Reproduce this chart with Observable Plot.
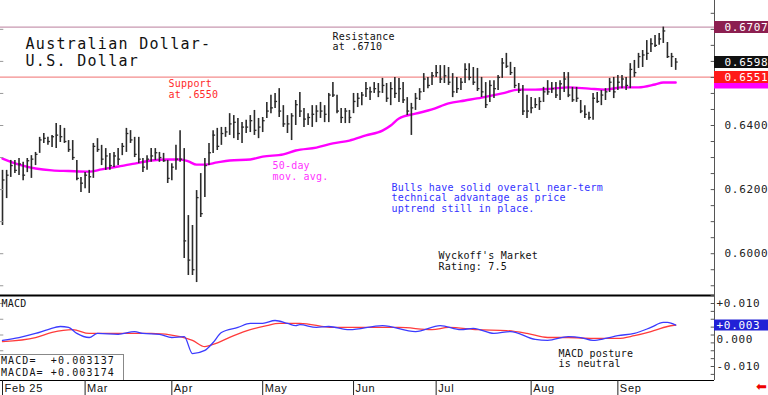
<!DOCTYPE html>
<html><head><meta charset="utf-8">
<script src="https://cdn.jsdelivr.net/npm/d3@7"></script>
<script src="https://cdn.jsdelivr.net/npm/@observablehq/plot@0.6"></script>
<style>
html,body{margin:0;padding:0;background:#fff;}
#wrap{position:relative;width:768px;height:395px;overflow:hidden;}
g[font-size="10"]{letter-spacing:0.2px}
g[font-size="11"]{letter-spacing:0.7px}
g[font-size="15"]{letter-spacing:1.3px}
#legend{position:absolute;left:0;top:354px;width:122px;height:25px;border-top:1px solid #888;border-right:1px solid #888;background:#fff;
  font:10px "DejaVu Sans Mono",monospace;letter-spacing:1.1px;line-height:12px;white-space:pre;padding-left:1px;color:#111;box-sizing:content-box;}
#arrow{position:absolute;left:756px;top:379px;color:#e00;font:13px "DejaVu Sans",sans-serif;}
</style></head>
<body><div id="wrap"></div>
<script>
// ---- data ----
const monthLabels = ["Feb 25","Mar","Apr","May","Jun","Jul","Aug","Sep"];
const monthStartBar = [0,20,41,63,85,105,128,149];

const high = [0.6260,0.6260,0.6291,0.6291,0.6297,0.6285,0.6297,0.6306,0.6316,0.6363,
 0.6375,0.6363,0.6369,0.6406,0.6400,0.6391,0.6353,0.6353,0.6291,0.6238,
 0.6253,0.6260,0.6344,0.6359,0.6338,0.6328,0.6313,0.6316,0.6328,0.6344,
 0.6391,0.6384,0.6363,0.6363,0.6297,0.6306,0.6328,0.6328,0.6316,0.6313,
 0.6291,0.6281,0.6338,0.6384,0.6328,0.6119,0.6088,0.6197,0.6250,0.6297,
 0.6344,0.6384,0.6391,0.6394,0.6394,0.6437,0.6431,0.6422,0.6409,0.6416,
 0.6431,0.6447,0.6422,0.6425,0.6472,0.6494,0.6500,0.6515,0.6462,0.6431,
 0.6437,0.6478,0.6503,0.6453,0.6437,0.6462,0.6462,0.6472,0.6462,0.6500,
 0.6534,0.6494,0.6453,0.6453,0.6447,0.6500,0.6500,0.6503,0.6534,0.6519,
 0.6534,0.6531,0.6547,0.6531,0.6534,0.6550,0.6547,0.6534,0.6487,0.6469,
 0.6500,0.6515,0.6562,0.6550,0.6565,0.6587,0.6587,0.6587,0.6581,0.6562,
 0.6550,0.6547,0.6593,0.6593,0.6581,0.6578,0.6550,0.6534,0.6540,0.6540,
 0.6556,0.6609,0.6625,0.6597,0.6581,0.6531,0.6525,0.6494,0.6487,0.6484,
 0.6487,0.6519,0.6540,0.6534,0.6534,0.6540,0.6565,0.6565,0.6519,0.6519,
 0.6478,0.6462,0.6441,0.6500,0.6503,0.6509,0.6515,0.6547,0.6550,0.6556,
 0.6556,0.6550,0.6593,0.6603,0.6625,0.6634,0.6665,0.6671,0.6681,0.6687,
 0.6707,0.6659,0.6625,0.6609];
const low = [0.6088,0.6172,0.6238,0.6250,0.6244,0.6228,0.6253,0.6235,0.6275,0.6313,
 0.6344,0.6338,0.6331,0.6328,0.6347,0.6344,0.6316,0.6291,0.6228,0.6191,
 0.6203,0.6188,0.6235,0.6316,0.6275,0.6260,0.6260,0.6269,0.6275,0.6306,
 0.6316,0.6344,0.6300,0.6281,0.6253,0.6260,0.6285,0.6291,0.6285,0.6285,
 0.6219,0.6228,0.6260,0.6285,0.5985,0.5932,0.5932,0.5910,0.6113,0.6175,
 0.6275,0.6313,0.6322,0.6338,0.6363,0.6369,0.6359,0.6353,0.6344,0.6375,
 0.6378,0.6369,0.6359,0.6378,0.6422,0.6437,0.6453,0.6425,0.6394,0.6375,
 0.6353,0.6400,0.6425,0.6394,0.6400,0.6394,0.6409,0.6422,0.6409,0.6409,
 0.6487,0.6437,0.6406,0.6406,0.6406,0.6437,0.6456,0.6462,0.6487,0.6478,
 0.6500,0.6487,0.6500,0.6472,0.6462,0.6484,0.6472,0.6469,0.6431,0.6369,
 0.6447,0.6478,0.6503,0.6515,0.6525,0.6550,0.6531,0.6531,0.6525,0.6487,
 0.6500,0.6509,0.6531,0.6540,0.6525,0.6506,0.6487,0.6453,0.6472,0.6484,
 0.6509,0.6547,0.6578,0.6556,0.6515,0.6500,0.6431,0.6422,0.6437,0.6453,
 0.6447,0.6472,0.6494,0.6500,0.6484,0.6478,0.6503,0.6487,0.6472,0.6472,
 0.6437,0.6422,0.6416,0.6416,0.6469,0.6462,0.6478,0.6503,0.6484,0.6509,
 0.6515,0.6509,0.6515,0.6550,0.6578,0.6581,0.6603,0.6628,0.6643,0.6650,
 0.6656,0.6609,0.6581,0.6572];
const close = [0.6230,0.6245,0.6275,0.6260,0.6280,0.6245,0.6290,0.6295,0.6310,0.6355,
 0.6360,0.6350,0.6365,0.6370,0.6365,0.6350,0.6325,0.6300,0.6235,0.6220,
 0.6245,0.6240,0.6335,0.6325,0.6295,0.6305,0.6275,0.6305,0.6295,0.6335,
 0.6375,0.6355,0.6310,0.6295,0.6270,0.6295,0.6305,0.6315,0.6300,0.6290,
 0.6235,0.6270,0.6295,0.6295,0.6040,0.5980,0.5950,0.6175,0.6125,0.6275,
 0.6315,0.6370,0.6335,0.6375,0.6380,0.6405,0.6410,0.6375,0.6395,0.6395,
 0.6415,0.6385,0.6395,0.6415,0.6445,0.6455,0.6475,0.6445,0.6405,0.6405,
 0.6430,0.6465,0.6445,0.6420,0.6425,0.6435,0.6445,0.6445,0.6435,0.6495,
 0.6495,0.6445,0.6425,0.6445,0.6425,0.6475,0.6485,0.6495,0.6515,0.6505,
 0.6515,0.6505,0.6525,0.6485,0.6515,0.6500,0.6515,0.6480,0.6445,0.6455,
 0.6485,0.6505,0.6545,0.6525,0.6555,0.6565,0.6545,0.6555,0.6535,0.6505,
 0.6515,0.6535,0.6575,0.6550,0.6535,0.6515,0.6505,0.6465,0.6525,0.6515,
 0.6550,0.6595,0.6585,0.6565,0.6525,0.6510,0.6445,0.6445,0.6455,0.6465,
 0.6475,0.6505,0.6505,0.6515,0.6495,0.6530,0.6545,0.6495,0.6480,0.6485,
 0.6445,0.6435,0.6425,0.6485,0.6475,0.6495,0.6505,0.6535,0.6505,0.6535,
 0.6545,0.6525,0.6575,0.6565,0.6615,0.6620,0.6625,0.6655,0.6650,0.6670,
 0.6695,0.6615,0.6615,0.6598];

const maBar = [0,4,8,12,16,21,24,28,32,36,40,43,45,47,49,52,55,60,63,68,71,76,80,84,88,92,94,96,100,104,108,112,116,121,125,129,133,137,142,146,150,154,158,160,163];
const maValue = [0.6297,0.6278,0.6266,0.6260,0.6258,0.6256,0.6263,0.6272,0.6281,0.6291,0.6294,0.6294,0.6288,0.6278,0.6278,0.6285,0.6291,0.6294,0.6303,0.6310,0.6322,0.6331,0.6344,0.6353,0.6369,0.6384,0.6400,0.6422,0.6437,0.6450,0.6469,0.6478,0.6487,0.6500,0.6512,0.6512,0.6515,0.6519,0.6515,0.6512,0.6519,0.6519,0.6528,0.6534,0.6534];

const macdBar = [0,4,8,11,14,16,18,21,23,28,32,34,38,41,44,46,49,51,53,57,60,63,66,69,71,72,76,79,84,92,100,106,111,114,119,123,129,132,137,140,143,146,149,153,157,160,161,163];
const macdValue = [-0.0017,-0.0008,0.0005,0.0017,0.0027,0.0024,0.0005,-0.0008,0.0005,0.0002,0.0011,0.0005,0.0002,-0.0008,-0.0005,-0.0059,-0.0049,-0.0024,0.0008,0.0024,0.0037,0.0037,0.0046,0.0037,0.0030,0.0033,0.0024,0.0027,0.0017,0.0030,0.0011,0.0030,0.0017,0.0021,0.0005,0.0011,-0.0014,-0.0017,-0.0005,-0.0008,-0.0017,-0.0011,-0.0002,0.0005,0.0024,0.0040,0.0040,0.003137];
const signalBar = [0,8,12,17,21,28,36,43,46,49,51,56,60,64,67,72,80,88,96,104,108,115,122,127,132,137,143,149,153,157,161,163];
const signalValue = [-0.0021,-0.0008,0.0008,0.0017,0.0005,0.0005,0.0005,-0.0005,-0.0017,-0.0037,-0.0030,-0.0002,0.0017,0.0030,0.0037,0.0037,0.0024,0.0024,0.0024,0.0017,0.0024,0.0017,0.0014,0.0005,-0.0008,-0.0008,-0.0011,-0.0011,-0.0002,0.0011,0.0027,0.003174];

const resistance = 0.6707;
const support = 0.6551;
const priceTicks = [0.60, 0.62, 0.64, 0.66];
const macdTicks = [-0.01, 0, 0.01];
const lastMacd = 0.003137;
const lastMacdA = 0.003174;

// ---- layout ----
const xDomain = [-0.4843, 172.397];
const yPrice = [0.58696, 0.6790];
const yMacd = [-0.014444, 0.012540];
const macdPerPx = (yMacd[1] - yMacd[0]) / 85;
const xR = xDomain[1], xL = xDomain[0];

const bars = high.map((h, i) => ({i, high: h, low: low[i], close: close[i]}));
const ma = maBar.map((b, k) => ({i: b, v: maValue[k]}));
const macd = macdBar.map((b, k) => ({i: b, v: macdValue[k]}));
const signal = signalBar.map((b, k) => ({i: b, v: signalValue[k]}));
const months = monthStartBar.map((b, k) => ({i: b, label: monthLabels[k]}));

const f4 = d3.format(".4f");
const fSigned = d => d > 0 ? "+" + d.toFixed(3) : d < 0 ? "-" + Math.abs(d).toFixed(3) : "0.000";
const minorPrice = d3.range(118, 136).map(k => k * 0.005);
const leftPrice = d3.range(59, 68).map(k => k * 0.01);
const minorMacd = d3.range(-5, 6).map(k => k * 0.0025);
const leftMacd = d3.range(-2, 3).map(k => k * 0.005);

const ink = "#2b2b2b";
const font = "'DejaVu Sans Mono', monospace";
const note = (txt, dx, dy, fill, fontSize, lineHeight) =>
  Plot.text([txt], {frameAnchor: "top-left", dx, dy, fill, fontSize, lineHeight, textAnchor: "start", lineAnchor: "top"});

// value boxes on the right axis (the moving-average box sits under the support box)
const boxes = [
  {v: maValue[maValue.length - 1], fill: "#ff00ff", showText: false},
  {v: support, fill: "#ff1a1a", showText: true},
  {v: close[close.length - 1], fill: "#111111", showText: true},
  {v: resistance, fill: "#8c1f50", showText: true}
];

const price = Plot.plot({
  width: 768, height: 295,
  marginTop: 0, marginBottom: 0, marginLeft: 0, marginRight: 54,
  x: {domain: xDomain, axis: null},
  y: {domain: yPrice, axis: null},
  style: {position: "absolute", left: "0px", top: "0px", background: "transparent", fontFamily: font, color: "#111", overflow: "visible"},
  marks: [
    Plot.ruleY([resistance], {stroke: "#bb7f9c", strokeWidth: 1}),
    Plot.ruleY([support], {stroke: "#f07070", strokeWidth: 1}),
    Plot.line(ma, {x: "i", y: "v", stroke: "#ff00ff", strokeWidth: 2.4, curve: "monotone-x"}),
    Plot.ruleX(bars, {x: "i", y1: "low", y2: "high", stroke: ink, strokeWidth: 1.6}),
    Plot.ruleY(bars, {y: "close", x1: "i", x2: d => d.i + 0.6, stroke: ink, strokeWidth: 1.3}),
    Plot.ruleX([xR], {stroke: "#555"}),
    Plot.ruleY(minorPrice, {x1: xR - 0.8, x2: xR, stroke: "#555"}),
    Plot.ruleY(leftPrice, {x1: xL, x2: xL + 0.8, stroke: "#999"}),
    Plot.text(priceTicks, {x: xR, y: d => d, text: f4, dx: 10, textAnchor: "start", fontSize: 11, fill: "#222"}),
    ...boxes.flatMap(b => [
      Plot.ruleY([b.v], {x1: xR, x2: xR + 13.2, stroke: b.fill, strokeWidth: 12}),
      ...(b.showText ? [Plot.text([b.v], {x: xR, y: d => d, text: f4, dx: 10, textAnchor: "start", fontSize: 11, fill: "#fff"})] : [])
    ]),
    note("Australian Dollar-", 25, 38, "#111", 15, 1),
    note("U.S. Dollar", 25, 55, "#111", 15, 1),
    note("Resistance\nat .6710", 332, 32, "#111", 10, 1.05),
    note("Support\nat .6550", 168, 79, "#ff2a2a", 10, 1.1),
    note("50-day\nmov. avg.", 272, 161, "#ff33ff", 10, 1.1),
    note("Bulls have solid overall near-term\ntechnical advantage as price\nuptrend still in place.", 391, 183, "#3333ff", 10, 1.05),
    note("Wyckoff's Market\nRating: 7.5", 438, 251, "#111", 10, 1.1)
  ]
});

const macdPlot = Plot.plot({
  width: 768, height: 101,
  marginTop: 1, marginBottom: 15, marginLeft: 0, marginRight: 54,
  x: {domain: xDomain, axis: null},
  y: {domain: yMacd, axis: null},
  style: {position: "absolute", left: "0px", top: "294px", background: "transparent", fontFamily: font, color: "#111", overflow: "visible"},
  marks: [
    Plot.ruleY([yMacd[1]], {stroke: "#000", strokeWidth: 2}),
    Plot.ruleY([yMacd[0]], {stroke: "#000", strokeWidth: 1}),
    Plot.ruleX([xR], {stroke: "#555"}),
    Plot.ruleY(minorMacd, {x1: xR - 0.8, x2: xR, stroke: "#555"}),
    Plot.ruleY(leftMacd, {x1: xL, x2: xL + 0.8, stroke: "#999"}),
    Plot.line(signal, {x: "i", y: "v", stroke: "#ff3b3b", strokeWidth: 1.3, curve: "monotone-x"}),
    Plot.line(macd, {x: "i", y: "v", stroke: "#3b3bff", strokeWidth: 1.3, curve: "monotone-x"}),
    Plot.text(macdTicks.filter(d => d !== 0), {x: xR, y: d => d, text: fSigned, dx: 2, textAnchor: "start", fontSize: 11, fill: "#222"}),
    Plot.text([0], {x: xR, y: d => d, text: fSigned, dx: 2, dy: 4.5, textAnchor: "start", fontSize: 11, fill: "#222"}),
    Plot.ruleY([lastMacd], {x1: xR, x2: xR + 13.2, stroke: "#2222d6", strokeWidth: 11}),
    Plot.text([lastMacd], {x: xR, y: d => d, text: fSigned, dx: 2, textAnchor: "start", fontSize: 11, fill: "#fff"}),
    note("MACD", 1, 4.3, "#111", 10, 1),
    note("MACD posture\nis neutral", 558, 53.6, "#111", 10, 1.05),
    Plot.ruleX(months, {x: "i", y1: yMacd[0], y2: yMacd[0] - 15 * macdPerPx, stroke: "#222"}),
    Plot.text(months, {x: "i", y: () => yMacd[0], text: "label", dx: 2, dy: 3.3, textAnchor: "start", lineAnchor: "top",
      fontSize: 11, fontFamily: "'Liberation Sans', Arial, sans-serif", fill: "#111"})
  ]
});

const wrap = document.getElementById("wrap");
wrap.appendChild(price);
wrap.appendChild(macdPlot);
const legend = document.createElement("div");
legend.id = "legend";
legend.textContent = "MACD=  " + (lastMacd >= 0 ? "+" : "") + lastMacd.toFixed(6) + "\nMACDA= " + (lastMacdA >= 0 ? "+" : "") + lastMacdA.toFixed(6);
wrap.appendChild(legend);
const arrow = document.createElement("div");
arrow.id = "arrow";
arrow.textContent = "\u2B05";
wrap.appendChild(arrow);
</script>
</body></html>
